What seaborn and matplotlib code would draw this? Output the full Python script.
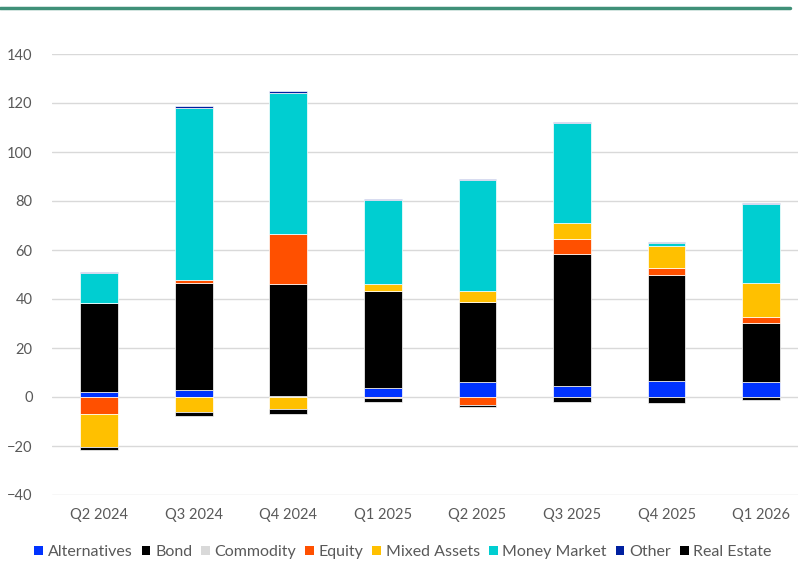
import numpy as np
import pandas as pd
import matplotlib
matplotlib.use("Agg")
import matplotlib.pyplot as plt
from matplotlib.patches import Patch
from matplotlib.lines import Line2D
import seaborn as sns

# dados (fluxos por trimestre)
quarters = ['Q2 2024', 'Q3 2024', 'Q4 2024', 'Q1 2025', 'Q2 2025', 'Q3 2025', 'Q4 2025', 'Q1 2026']
alternatives = [2.2, 2.7, 0.4, 3.8, 6.0, 4.5, 6.4, 6.0]
bond = [36.3, 43.8, 45.8, 39.5, 32.7, 53.7, 43.6, 24.2]
commodity = [0.0, 0.0, 0.0, 0.0, 0.0, 0.0, 0.0, 0.0]
equity = [-7.1, 1.3, 20.4, -0.5, -3.4, 6.2, 2.8, 2.5]
mixed_assets = [-13.3, -6.1, -5.1, 2.8, 4.7, 6.8, 8.7, 13.8]
money_market = [12.1, 70.2, 57.6, 34.2, 45.3, 40.6, 1.4, 32.4]
other = [0.5, 0.6, 0.5, 0.4, 0.4, 0.3, 0.3, 0.4]
real_estate = [-1.3, -1.8, -2.0, -1.7, -0.7, -2.0, -2.4, -1.3]

series = ['Alternatives', 'Bond', 'Commodity', 'Equity', 'Mixed Assets', 'Money Market', 'Other', 'Real Estate']
values = [alternatives, bond, commodity, equity, mixed_assets, money_market, other, real_estate]
colors = ['#0033ff', '#000000', '#d9d9d9', '#ff5000', '#ffc000', '#00ced1', '#0020a0', '#000000']

sns.set_theme(style="white")
plt.rcParams['font.family'] = ['Lato', 'DejaVu Sans']

fig = plt.figure(figsize=(7.98, 5.64), dpi=100)
ax = fig.add_axes([52 / 798, 69 / 564, 746 / 798, 441 / 564])

pos_base = np.zeros(len(quarters))
neg_base = np.zeros(len(quarters))
for nome, vals, cor in zip(series, values, colors):
    vals = np.array(vals)
    pos = np.where(vals > 0, vals, 0)
    neg = np.where(vals < 0, vals, 0)
    if pos.any():
        sns.barplot(x=quarters, y=pos, bottom=pos_base, color=cor, width=0.4, saturation=1,
                    edgecolor='white', linewidth=0.5, errorbar=None, ax=ax, zorder=3)
    if neg.any():
        sns.barplot(x=quarters, y=neg, bottom=neg_base, color=cor, width=0.4, saturation=1,
                    edgecolor='white', linewidth=0.5, errorbar=None, ax=ax, zorder=3)
    pos_base += pos
    neg_base += neg

ax.set_ylim(-40, 140)
ax.set_yticks(range(-40, 141, 20))
ax.set_xlim(-0.5, 7.39)
ax.grid(axis='y', color='#d9d9d9', linewidth=1, zorder=0)
ax.set_axisbelow(True)
for s in ax.spines.values():
    s.set_visible(False)
ax.tick_params(axis='both', length=0, labelsize=10.5, labelcolor='#595959')
ax.tick_params(axis='y', pad=14)
ax.tick_params(axis='x', pad=9)
ax.set_xlabel('')
ax.set_ylabel('')

# legenda
handles = [Patch(facecolor=c, edgecolor='none') for c in colors]
fig.legend(handles, series, loc='center left', bbox_to_anchor=(28 / 798, 1 - 552 / 564),
           ncol=8, frameon=False, fontsize=11.5, handlelength=0.55, handleheight=0.55,
           handletextpad=0.3, columnspacing=0.55, labelcolor='#595959', borderaxespad=0)

# linha verde no topo
fig.add_artist(Line2D([0, 790 / 798], [1 - 7.5 / 564, 1 - 7.5 / 564], color='#3f9078',
                      linewidth=2.5, transform=fig.transFigure))

fig.savefig('out.png', dpi=100)
